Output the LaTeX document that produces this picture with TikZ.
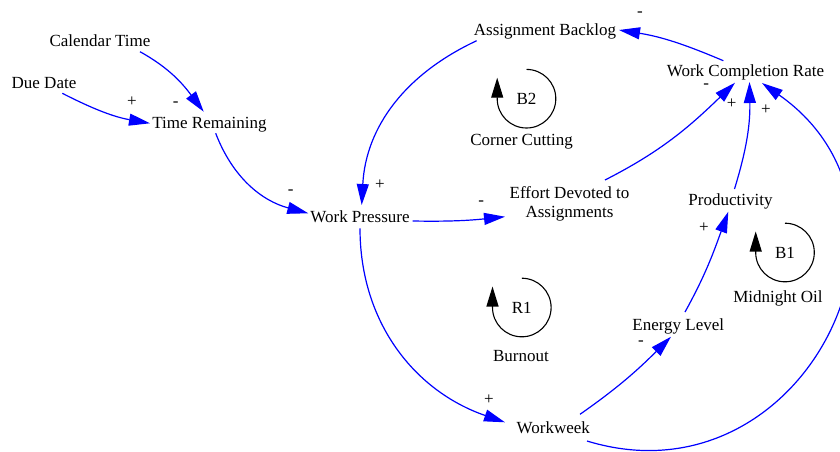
\documentclass[tikz,border=0pt]{standalone}
\usepackage{fontspec}
\setmainfont{Liberation Serif}
\usetikzlibrary{arrows.meta}
\definecolor{linkblue}{RGB}{0,0,255}
\newcommand\cldfont{\fontsize{17}{19}\selectfont}
\tikzset{
  var/.style={font=\cldfont, inner sep=0pt, anchor=base},
  sign/.style={font=\cldfont, inner sep=0pt, anchor=base},
  looptag/.style={font=\cldfont, inner sep=0pt},
  link/.style={draw=linkblue, line width=1.2pt, -{Triangle[length=21pt,width=12pt]}},
  loopmark/.style={draw=black, line width=1.1pt, -{Triangle[length=20pt,width=12pt]}},
}
\begin{document}
\begin{tikzpicture}[x=1pt,y=1pt]
\useasboundingbox (0,0) rectangle (840,-451);

% variables
\node[var] (cal)  at (100,-46)     {Calendar Time};
\node[var] (due)  at (44,-88.3)    {Due Date};
\node[var] (tr)   at (209.5,-128.3) {Time Remaining};
\node[var] (wp)   at (360,-222.3)  {Work Pressure};
\node[var] (ab)   at (545,-35)     {Assignment Backlog};
\node[var] (wcr)  at (745.5,-76)   {Work Completion Rate};
\node[var,anchor=center,align=center] (eda) at (569.5,-204) {Effort Devoted to\\Assignments};
\node[var] (prod) at (730.5,-205.7) {Productivity};
\node[var] (el)   at (678.3,-330)  {Energy Level};
\node[var] (ww)   at (553.3,-433.3) {Workweek};

% loop identifiers and names
\node[looptag] (b2) at (526.5,-98.7) {B2};
\node[var] (b2name) at (521.5,-145) {Corner Cutting};
\node[looptag] (r1) at (521.8,-307.5) {R1};
\node[var] (r1name) at (521,-361.7) {Burnout};
\node[looptag] (b1) at (785,-252.5) {B1};
\node[var] (b1name) at (778,-302.3) {Midnight Oil};

\draw[loopmark] ([shift={(0,29.3)}]b2.center) arc[start angle=90,end angle=-180,radius=29.3] -- ++(0,21);
\draw[loopmark] ([shift={(0,29.3)}]r1.center) arc[start angle=90,end angle=-180,radius=29.3] -- ++(0,21);
\draw[loopmark] ([shift={(0,29.3)}]b1.center) arc[start angle=90,end angle=-180,radius=29.3] -- ++(0,21);

% causal links
\draw[link] ([shift={(40,-5.7)}]cal.base) to[out=-29,in=127] ([shift={(-5.8,16.6)}]tr.base);
\draw[link] ([shift={(18.3,-5)}]due.base) to[out=-27,in=170] ([shift={(-59.5,5)}]tr.base);
\draw[link] ([shift={(6.2,-5)}]tr.base) to[out=-69,in=165] ([shift={(-51.7,9)}]wp.base);
\draw[link] ([shift={(-68.3,-5.7)}]ab.base) to[out=205,in=87] ([shift={(1.7,17.3)}]wp.base);
\draw[link] ([shift={(52.7,1.3)}]wp.base) to[out=-1,in=186] ([shift={(-64.5,-12.7)}]eda.center);
\draw[link] ([shift={(35.5,24)}]eda.center) to[out=27,in=224] ([shift={(-10.5,-6.7)}]wcr.base);
\draw[link] ([shift={(4,16.7)}]prod.base) to[out=73,in=-89] ([shift={(4,-6)}]wcr.base);
\draw[link] ([shift={(33.7,-7.7)}]ww.base) to[out=-17,in=-35,looseness=1.45] ([shift={(16.5,-7)}]wcr.base);
\draw[link] ([shift={(-22.2,15.3)}]wcr.base) to[out=157,in=-9] ([shift={(74,5)}]ab.base);
\draw[link] ([shift={(0,-6)}]wp.base) to[out=-90,in=161] ([shift={(-48.3,11)}]ww.base);
\draw[link] ([shift={(26.7,19)}]ww.base) to[out=35,in=225] ([shift={(-7.3,-6.7)}]el.base);
\draw[link] ([shift={(6.7,18)}]el.base) to[out=61,in=250] ([shift={(-2.2,-6)}]prod.base);

% link polarities
\node[sign] (s1)  at (132,-106.7)  {+};
\node[sign] (s2)  at (175.7,-106.5) {-};
\node[sign] (s3)  at (290.7,-194.5) {-};
\node[sign] (s4)  at (380,-189)    {+};
\node[sign] (s5)  at (481.3,-205.5) {-};
\node[sign] (s6)  at (706.2,-88.2) {-};
\node[sign] (s7)  at (731.7,-108)  {+};
\node[sign] (s8)  at (766,-114)    {+};
\node[sign] (s9)  at (640,-16.5)   {-};
\node[sign] (s10) at (489,-404)    {+};
\node[sign] (s11) at (641,-345.5)  {-};
\node[sign] (s12) at (704,-232.3)  {+};
\end{tikzpicture}
\end{document}
